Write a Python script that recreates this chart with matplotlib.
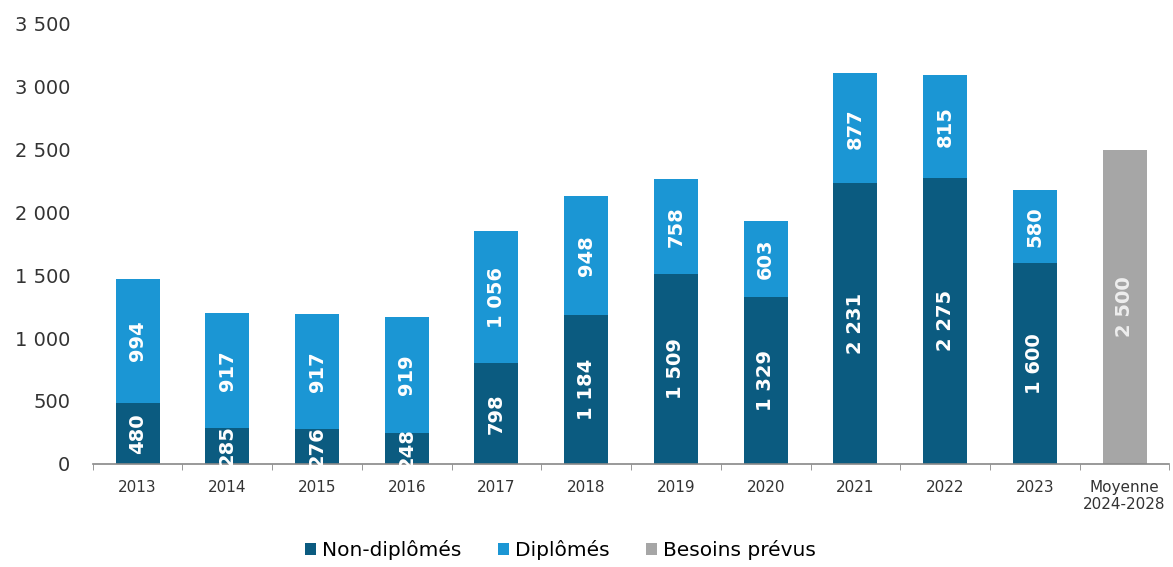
import matplotlib.pyplot as plt
import numpy as np

# data
years = ['2013', '2014', '2015', '2016', '2017', '2018', '2019', '2020',
         '2021', '2022', '2023']
non_diplomes = [480, 285, 276, 248, 798, 1184, 1509, 1329, 2231, 2275, 1600]
diplomes = [994, 917, 917, 919, 1056, 948, 758, 603, 877, 815, 580]
besoin_label = 'Moyenne\n2024-2028'
besoin_value = 2500

c_dark = '#0b5b80'
c_light = '#1b96d4'
c_grey = '#a6a6a6'


def fmt(v):
    return '{:,}'.format(int(v)).replace(',', ' ')


fig = plt.figure(figsize=(11.73, 5.67), dpi=100)
ax = fig.add_axes([0.079, 0.182, 0.918, 0.776])

n = len(years)
x = np.arange(n)
w = 0.49
ax.bar(x, non_diplomes, width=w, color=c_dark, label='Non-diplômés')
ax.bar(x, diplomes, width=w, bottom=non_diplomes, color=c_light,
       label='Diplômés')
ax.bar([n], [besoin_value], width=w, color=c_grey, label='Besoins prévus')

lab_kw = dict(rotation=90, ha='center', va='center', color='white',
              fontsize=14, fontweight='bold')
for i in range(n):
    ax.text(x[i], non_diplomes[i] / 2, fmt(non_diplomes[i]), **lab_kw)
    ax.text(x[i], non_diplomes[i] + diplomes[i] / 2, fmt(diplomes[i]),
            **lab_kw)
lab_kw['color'] = '#eeeeee'
ax.text(n, besoin_value / 2, fmt(besoin_value), **lab_kw)

ax.set_xlim(-0.5, n + 0.5)
ax.set_ylim(0, 3500)
ax.set_yticks(np.arange(0, 3501, 500))
ax.set_yticklabels([fmt(v) for v in np.arange(0, 3501, 500)],
                   fontsize=14, color='#333333')
ax.set_xticks(list(x) + [n])
ax.set_xticklabels(years + [besoin_label], fontsize=11, color='#333333',
                   linespacing=1.1)
ax.set_xticks(np.arange(-0.5, n + 1, 1), minor=True)
ax.tick_params(axis='x', which='major', length=0, pad=12)
ax.tick_params(axis='x', which='minor', length=4, color='#888888',
               direction='out')
ax.tick_params(axis='y', length=0, pad=16)

for s in ['top', 'right', 'left']:
    ax.spines[s].set_visible(False)
ax.spines['bottom'].set_color('#888888')
ax.spines['bottom'].set_linewidth(1.2)

fig.legend(loc='lower center', bbox_to_anchor=(0.478, -0.02), ncol=3,
           frameon=False, fontsize=14.5, handlelength=0.55, handleheight=0.55,
           handletextpad=0.3, columnspacing=1.8)

plt.savefig('out.png', dpi=100)
plt.close()
